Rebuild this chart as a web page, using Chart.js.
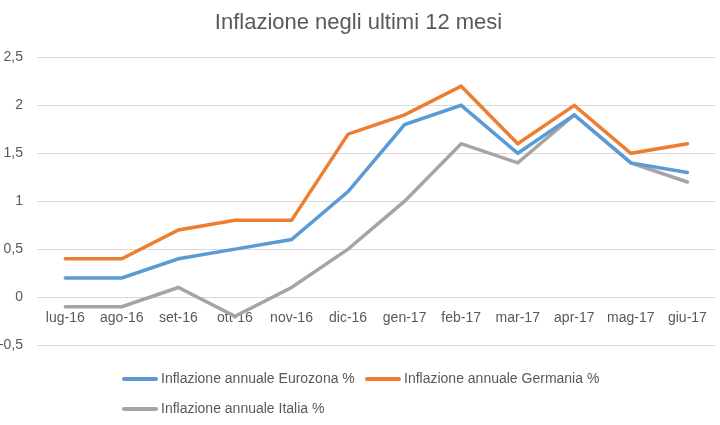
<!DOCTYPE html>
<html>
<head>
<meta charset="utf-8">
<script src="https://cdn.jsdelivr.net/npm/chart.js@4"></script>
<style>
    body { margin: 0; background: #fff; }
    #wrap { position: relative; width: 720px; height: 425px; }
    #legend { position: absolute; left: 0; top: 0; font-family: "Liberation Sans", "Noto Sans", sans-serif; font-size: 14px; color: #595959; }
    .item { position: absolute; white-space: nowrap; line-height: 16px; }
    .item span { display: inline-block; width: 36px; height: 4px; border-radius: 2px; vertical-align: middle; margin-right: 3px; }
</style>
</head>
<body>
<div id="wrap">
    <canvas id="myChart" width="720" height="425"></canvas>
    <div id="legend"></div>
</div>
<script>
const mesi = ['lug-16', 'ago-16', 'set-16', 'ott-16', 'nov-16', 'dic-16', 'gen-17', 'feb-17', 'mar-17', 'apr-17', 'mag-17', 'giu-17'];
const eurozona = [0.2, 0.2, 0.4, 0.5, 0.6, 1.1, 1.8, 2.0, 1.5, 1.9, 1.4, 1.3];
const germania = [0.4, 0.4, 0.7, 0.8, 0.8, 1.7, 1.9, 2.2, 1.6, 2.0, 1.5, 1.6];
const italia = [-0.1, -0.1, 0.1, -0.2, 0.1, 0.5, 1.0, 1.6, 1.4, 1.9, 1.4, 1.2];

const nomi = ['Inflazione annuale Eurozona %', 'Inflazione annuale Germania %', 'Inflazione annuale Italia %'];
const colori = ['#5B9BD5', '#ED7D31', '#A5A5A5'];

// legenda html: Excel la allinea a sinistra su due righe
const posLegenda = [[122, 370], [365, 370], [122, 400]];
let legendHtml = '';
for (let i = 0; i < nomi.length; i++) {
    legendHtml += '<div class="item" style="left:' + posLegenda[i][0] + 'px;top:' + posLegenda[i][1] + 'px">' +
        '<span style="background:' + colori[i] + '"></span>' + nomi[i] + '</div>';
}
document.getElementById('legend').innerHTML = legendHtml;

const font = "'Liberation Sans', 'Noto Sans', sans-serif";
const ctx = document.getElementById('myChart').getContext('2d');

function serie(i, valori) {
    return {
        label: nomi[i],
        data: valori,
        borderColor: colori[i],
        backgroundColor: colori[i],
        borderWidth: 3.5,
        pointRadius: 0,
        tension: 0,
        borderCapStyle: 'round'
    };
}

const lineChart = new Chart(ctx, {
    type: 'line',
    data: {
        labels: mesi,
        datasets: [serie(0, eurozona), serie(1, germania), serie(2, italia)]
    },
    options: {
        responsive: false,
        animation: false,
        layout: { padding: { top: 0, right: 3, bottom: 80, left: 0 } },
        plugins: {
            legend: { display: false },
            tooltip: { enabled: false },
            title: {
                display: true,
                text: 'Inflazione negli ultimi 12 mesi',
                color: '#595959',
                font: { family: font, size: 22, weight: 'normal' },
                padding: { top: 10, bottom: 21 }
            }
        },
        scales: {
            x: {
                position: { y: 0 },
                offset: true,
                grid: { display: false, drawTicks: false },
                border: { display: false },
                ticks: { color: '#595959', font: { family: font, size: 14 }, padding: 13, maxRotation: 0, autoSkip: false }
            },
            y: {
                min: -0.5,
                max: 2.5,
                grid: { color: '#D9D9D9', drawTicks: false },
                border: { display: false },
                afterFit: function(scale) { scale.width = 37; },
                ticks: {
                    stepSize: 0.5,
                    padding: 14,
                    color: '#595959',
                    font: { family: font, size: 14 },
                    callback: function(v) { return String(Math.round(v * 10) / 10).replace('.', ','); }
                }
            }
        }
    }
});
</script>
</body>
</html>
